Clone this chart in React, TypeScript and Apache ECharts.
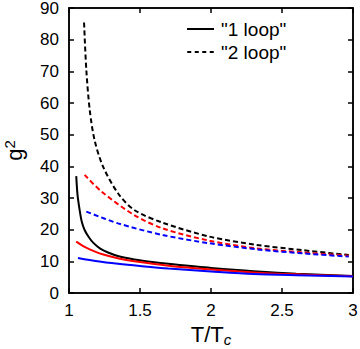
import React, { useEffect, useRef } from "react";
import * as echarts from "echarts";

// 1 loop curves
const oneLoopBlackT = [1.051, 1.06, 1.075, 1.09, 1.11, 1.14, 1.17, 1.22, 1.275, 1.35, 1.46, 1.6, 1.7, 2.0, 2.3, 2.6, 3.0];
const oneLoopBlackG = [36.9, 31, 26.2, 22.5, 19.9, 17.6, 15.9, 14.0, 12.8, 11.6, 10.6, 9.7, 9.2, 7.9, 6.9, 6.1, 5.4];
const oneLoopRedT = [1.051, 1.1, 1.15, 1.23, 1.35, 1.46, 1.7, 2.0, 2.3, 2.6, 3.0];
const oneLoopRedG = [16.2, 14.8, 13.7, 12.3, 10.9, 10.0, 8.6, 7.4, 6.5, 5.9, 5.3];
const oneLoopBlueT = [1.063, 1.2, 1.345, 1.5, 1.7, 2.0, 2.3, 2.6, 3.0];
const oneLoopBlueG = [11.05, 10.0, 9.2, 8.5, 7.7, 6.8, 6.0, 5.6, 5.2];

// 2 loop curves
const twoLoopBlackT = [1.106, 1.122, 1.146, 1.18, 1.24, 1.345, 1.46, 1.66, 1.99, 2.32, 2.65, 2.97];
const twoLoopBlackG = [85.4, 70.4, 57.8, 48.3, 39.9, 31.5, 26.2, 22.2, 17.8, 15.2, 13.5, 12.0];
const twoLoopRedT = [1.11, 1.23, 1.46, 1.66, 1.99, 2.32, 2.65, 2.97];
const twoLoopRedG = [37.3, 32, 24.6, 20.4, 16.5, 14.1, 12.8, 11.8];
const twoLoopBlueT = [1.122, 1.345, 1.66, 1.99, 2.32, 2.65, 2.97];
const twoLoopBlueG = [25.7, 22, 18.3, 15.7, 13.8, 12.5, 11.5];

const legendNames = ['"1 loop"', '"2 loop"'];
const xTicks = [1, 1.5, 2, 2.5, 3];
const yTicks = [0, 10, 20, 30, 40, 50, 60, 70, 80, 90];

const FONT = "Liberation Sans, Arial, Helvetica, sans-serif";

const pairs = (t: number[], g: number[]) => t.map((v, i) => [v, g[i]]);

const SOLID_ICON = "path://M0,0h27v2h-27z";
const DASH_ICON = "path://M0,0h4v2h-4z M7.5,0h4v2h-4z M15,0h4v2h-4z M22.5,0h4v2h-4z";

export default function App() {
  const ref = useRef<HTMLDivElement>(null);
  useEffect(() => {
    if (!ref.current) return;
    const chart = echarts.init(ref.current, undefined, { renderer: "svg" });
    const mk = (name: string, t: number[], g: number[], color: string, dashed: boolean) => ({
      name,
      type: "line",
      data: pairs(t, g),
      showSymbol: false,
      symbol: "none",
      smooth: 0.3,
      lineStyle: { color, width: 2, type: dashed ? [5, 3] : "solid" },
      itemStyle: { color },
      z: 3,
    });
    const axisLine = () => ({ show: true, onZero: false, lineStyle: { color: "#000", width: 1.5 } });
    const tickInside = () => ({ show: true, inside: true, length: 5, lineStyle: { color: "#000", width: 1.5 } });
    chart.setOption({
      animation: false,
      backgroundColor: "#fff",
      grid: {
        left: 69,
        top: 8,
        right: 7,
        bottom: 56,
        containLabel: false,
        outerBoundsMode: "none",
        show: true,
        borderColor: "#000",
        borderWidth: 1.5,
        backgroundColor: "transparent",
      },
      legend: {
        data: [
          { name: legendNames[0], icon: SOLID_ICON },
          { name: legendNames[1], icon: DASH_ICON },
        ],
        orient: "vertical",
        left: 182,
        top: 14,
        itemWidth: 27,
        itemHeight: 2,
        itemGap: 3,
        selectedMode: false,
        textStyle: { fontFamily: FONT, fontSize: 19, lineHeight: 20, color: "#000", padding: [0, 0, 0, 2] },
      },
      xAxis: [
        {
          type: "value",
          min: 1,
          max: 3,
          interval: 0.5,
          axisLine: axisLine(),
          axisTick: tickInside(),
          splitLine: { show: false },
          axisLabel: { fontFamily: FONT, fontSize: 17, color: "#000", margin: 9, formatter: (v: number) => (xTicks.includes(v) ? String(v) : "") },
          name: "T/T{sub|c}",
          nameLocation: "middle",
          nameGap: 29,
          nameTextStyle: {
            fontFamily: FONT,
            fontSize: 22,
            color: "#000",
            verticalAlign: "top",
            rich: { sub: { fontFamily: FONT, fontSize: 15, fontStyle: "italic", color: "#000", padding: [10, 0, 0, 0] } },
          },
        },
        {
          type: "value",
          position: "top",
          min: 1,
          max: 3,
          interval: 0.5,
          axisLine: axisLine(),
          axisTick: tickInside(),
          axisLabel: { show: false },
          splitLine: { show: false },
        },
      ],
      yAxis: [
        {
          type: "value",
          min: 0,
          max: 90,
          interval: 10,
          axisLine: axisLine(),
          axisTick: tickInside(),
          splitLine: { show: false },
          axisLabel: { fontFamily: FONT, fontSize: 17, color: "#000", margin: 10, formatter: (v: number) => (yTicks.includes(v) ? String(v) : "") },
          name: "g{sup|2}",
          nameLocation: "middle",
          nameGap: 42,
          nameTextStyle: {
            fontFamily: FONT,
            fontSize: 22,
            color: "#000",
            rich: { sup: { fontFamily: FONT, fontSize: 15, color: "#000", padding: [0, 0, 10, 0] } },
          },
        },
        {
          type: "value",
          position: "right",
          min: 0,
          max: 90,
          interval: 10,
          axisLine: axisLine(),
          axisTick: tickInside(),
          axisLabel: { show: false },
          splitLine: { show: false },
        },
      ],
      series: [
        mk(legendNames[0], oneLoopBlackT, oneLoopBlackG, "#000000", false),
        mk("1 loop red", oneLoopRedT, oneLoopRedG, "#ff0000", false),
        mk("1 loop blue", oneLoopBlueT, oneLoopBlueG, "#0000ff", false),
        mk(legendNames[1], twoLoopBlackT, twoLoopBlackG, "#000000", true),
        mk("2 loop red", twoLoopRedT, twoLoopRedG, "#ff0000", true),
        mk("2 loop blue", twoLoopBlueT, twoLoopBlueG, "#0000ff", true),
      ],
    });
    return () => chart.dispose();
  }, []);
  return <div ref={ref} style={{ width: 360, height: 349, position: "absolute", left: 0, top: 0 }} />;
}
